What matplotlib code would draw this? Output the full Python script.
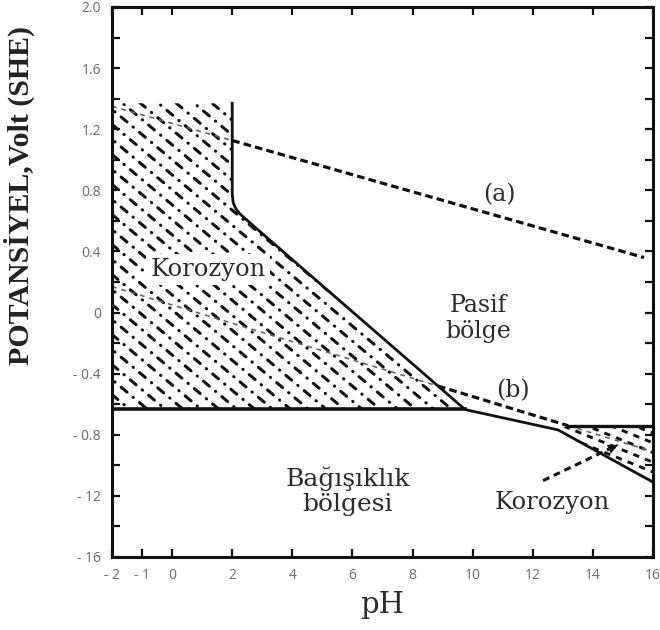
import numpy as np
import matplotlib
matplotlib.use("Agg")
import matplotlib.pyplot as plt
from matplotlib.patches import Polygon

plt.rcParams["lines.scale_dashes"] = False

# ---- axis ticks ----
ph_ticks = [-2, -1, 0, 2, 4, 6, 8, 10, 12, 14, 16]
ph_tick_labels = ["- 2", "- 1", "0", "2", "4", "6", "8", "10", "12", "14", "16"]
v_ticks = [2.0, 1.6, 1.2, 0.8, 0.4, 0.0, -0.4, -0.8, -1.2, -1.6]
v_tick_labels = ["2.0", "1.6", "1.2", "0.8", "0.4", "0", "- 0.4", "- 0.8", "- 12", "- 16"]

# ---- region boundaries (pH, potential V vs SHE) ----
passive_ph = [2.0, 2.0, 2.03, 2.12, 2.26, 2.69, 9.75, 12.84, 16.0]
passive_v = [1.37, 0.78, 0.72, 0.68, 0.645, 0.57, -0.635, -0.768, -1.11]
immunity_ph = [-2.0, 9.75]
immunity_v = -0.63
corrosion_top_v = 1.37
alkaline_ph = [13.17, 16.0]
alkaline_top_v = -0.74

# water stability lines: (a) oxygen, (b) hydrogen
a_ph = [-2.0, 15.7]
a_v = [1.35, 0.36]
b_ph = [-2.0, 16.0]
b_v = [0.17, -0.91]

# arrow pointing at the alkaline corrosion zone
arrow_from = (12.34, -1.10)
arrow_to = (14.83, -0.866)

INK = "#111111"
TXT = "#2b2b2b"

fig = plt.figure(figsize=(6.6, 6.3), dpi=100)
ax = fig.add_axes([112 / 660, 1 - 557 / 630, (653 - 112) / 660, (557 - 7) / 630])
ax.set_xlim(-2, 16)
ax.set_ylim(-1.6, 2.0)

# frame and ticks
for s in ax.spines.values():
    s.set_linewidth(2.2)
    s.set_color(INK)
ax.set_xticks(ph_ticks)
ax.set_xticklabels(ph_tick_labels)
ax.set_yticks(v_ticks)
ax.set_yticklabels(v_tick_labels)
ax.set_yticks(np.arange(-1.4, 2.0, 0.4), minor=True)
ax.tick_params(axis="both", which="both", direction="in", top=True, right=True,
               length=6, width=1.6, color=INK)
ax.tick_params(axis="both", which="major", labelsize=10, labelcolor="#6a6a6a", pad=8)
for lbl in ax.get_xticklabels() + ax.get_yticklabels():
    lbl.set_family("Open Sans")

ax.set_ylabel("POTANSİYEL,Volt (SHE)", family="Liberation Serif", fontweight="bold",
              fontsize=21.5, color="#222222")
ax.yaxis.set_label_coords(-0.142, 0.658)
ax.set_xlabel("pH", family="DejaVu Serif", fontsize=21, color=TXT, labelpad=6)

# ---- hatched corrosion regions ----
def hatch_region(verts, angle_deg, spacing_px, pattern, lw=2.0, cap="round", stagger=0.0):
    patch = Polygon(verts, closed=True, facecolor="none", edgecolor="none")
    ax.add_patch(patch)
    p0 = ax.transData.transform((0, 0))
    sx = ax.transData.transform((1, 0))[0] - p0[0]
    sy = ax.transData.transform((0, 1))[1] - p0[1]
    t = np.tan(np.radians(angle_deg))
    slope = -t * sx / sy
    dv = spacing_px / np.cos(np.radians(angle_deg)) / sy
    xs = np.array([v[0] for v in verts])
    ys = np.array([v[1] for v in verts])
    x0, x1 = xs.min(), xs.max()
    cmax = ys.max() + abs(slope) * (x1 - x0) + dv
    for i, c in enumerate(np.arange(ys.min() - dv, cmax, dv)):
        ln, = ax.plot([x0, x1], [c, c + slope * (x1 - x0)], color=INK, lw=lw,
                      dash_capstyle=cap)
        ln.set_linestyle((i * stagger, pattern))
        ln.set_clip_path(patch)

main_region = ([(immunity_ph[0], immunity_v), (immunity_ph[0], corrosion_top_v),
                (passive_ph[0], corrosion_top_v)]
               + list(zip(passive_ph[1:7], passive_v[1:7]))
               + [(immunity_ph[1], immunity_v)])
hatch_region(main_region, 40, 11.5, (5.5, 5.7, 0.3, 5.7), lw=2.2, stagger=8.6)

alk_region = [(alkaline_ph[0], alkaline_top_v), (alkaline_ph[1], alkaline_top_v),
              (passive_ph[8], passive_v[8]), (passive_ph[7], passive_v[7])]
hatch_region(alk_region, 22, 9.0, (4.5, 4.5), lw=2.1, cap="butt", stagger=4.5)

# ---- dashed water lines ----
def interp(xs, ys, x):
    return float(np.interp(x, xs, ys))

def dashed(x0, x1, xs, ys, lw, color, style):
    ln, = ax.plot([x0, x1], [interp(xs, ys, x0), interp(xs, ys, x1)],
                  color=color, lw=lw, dash_capstyle="butt")
    ln.set_linestyle(style)

# (a): faint inside the corrosion zone, bold outside
dashed(a_ph[0], passive_ph[0], a_ph, a_v, 1.2, "#666666", (0, (3.5, 3.5)))
dashed(passive_ph[0], a_ph[1], a_ph, a_v, 2.3, INK, (0, (5.5, 3.0)))

# (b): faint inside the corrosion zone, bold from where it meets the boundary
xs_b = np.linspace(5, b_ph[1], 2000)
gap = np.abs(np.interp(xs_b, b_ph, b_v) - np.interp(xs_b, passive_ph[1:], passive_v[1:]))
cross = float(xs_b[np.argmin(gap)])
dashed(b_ph[0], cross, b_ph, b_v, 1.2, "#666666", (0, (3.5, 3.5)))
dashed(cross, alkaline_ph[0], b_ph, b_v, 2.3, INK, (0, (5.5, 3.0)))
dashed(alkaline_ph[0], b_ph[1], b_ph, b_v, 1.2, "#666666", (0, (3.5, 3.5)))

# ---- solid boundaries ----
ax.plot(passive_ph, passive_v, color=INK, lw=2.0, solid_joinstyle="round")
ax.plot(immunity_ph, [immunity_v, immunity_v], color=INK, lw=2.6)
ax.plot(alkaline_ph, [alkaline_top_v, alkaline_top_v], color=INK, lw=2.4)

# ---- arrow ----
ln, = ax.plot([arrow_from[0], arrow_to[0]], [arrow_from[1], arrow_to[1]], color=INK, lw=2.2)
ln.set_linestyle((0, (5.0, 3.5)))
ax.annotate("", xy=arrow_to,
            xytext=(arrow_to[0] - 0.05 * (arrow_to[0] - arrow_from[0]),
                    arrow_to[1] - 0.05 * (arrow_to[1] - arrow_from[1])),
            arrowprops=dict(arrowstyle="-|>", color=INK, lw=1.0, mutation_scale=14))

# ---- region labels ----
lab = dict(family="DejaVu Serif", color=TXT, ha="center", va="center")
ax.text(1.19, 0.28, "Korozyon", fontsize=17.5, **lab,
        bbox=dict(facecolor="white", edgecolor="none", pad=3))
ax.text(10.18, -0.04, "Pasif\nbölge", fontsize=17, linespacing=1.15, **lab)
ax.text(10.9, 0.77, "(a)", fontsize=17, **lab)
ax.text(11.34, -0.51, "(b)", fontsize=17, **lab)
ax.text(5.85, -1.17, "Bağışıklık\nbölgesi", fontsize=18, linespacing=1.15, **lab)
ax.text(12.64, -1.24, "Korozyon", fontsize=17.5, **lab)

fig.savefig("out.png", dpi=100, facecolor="white")
